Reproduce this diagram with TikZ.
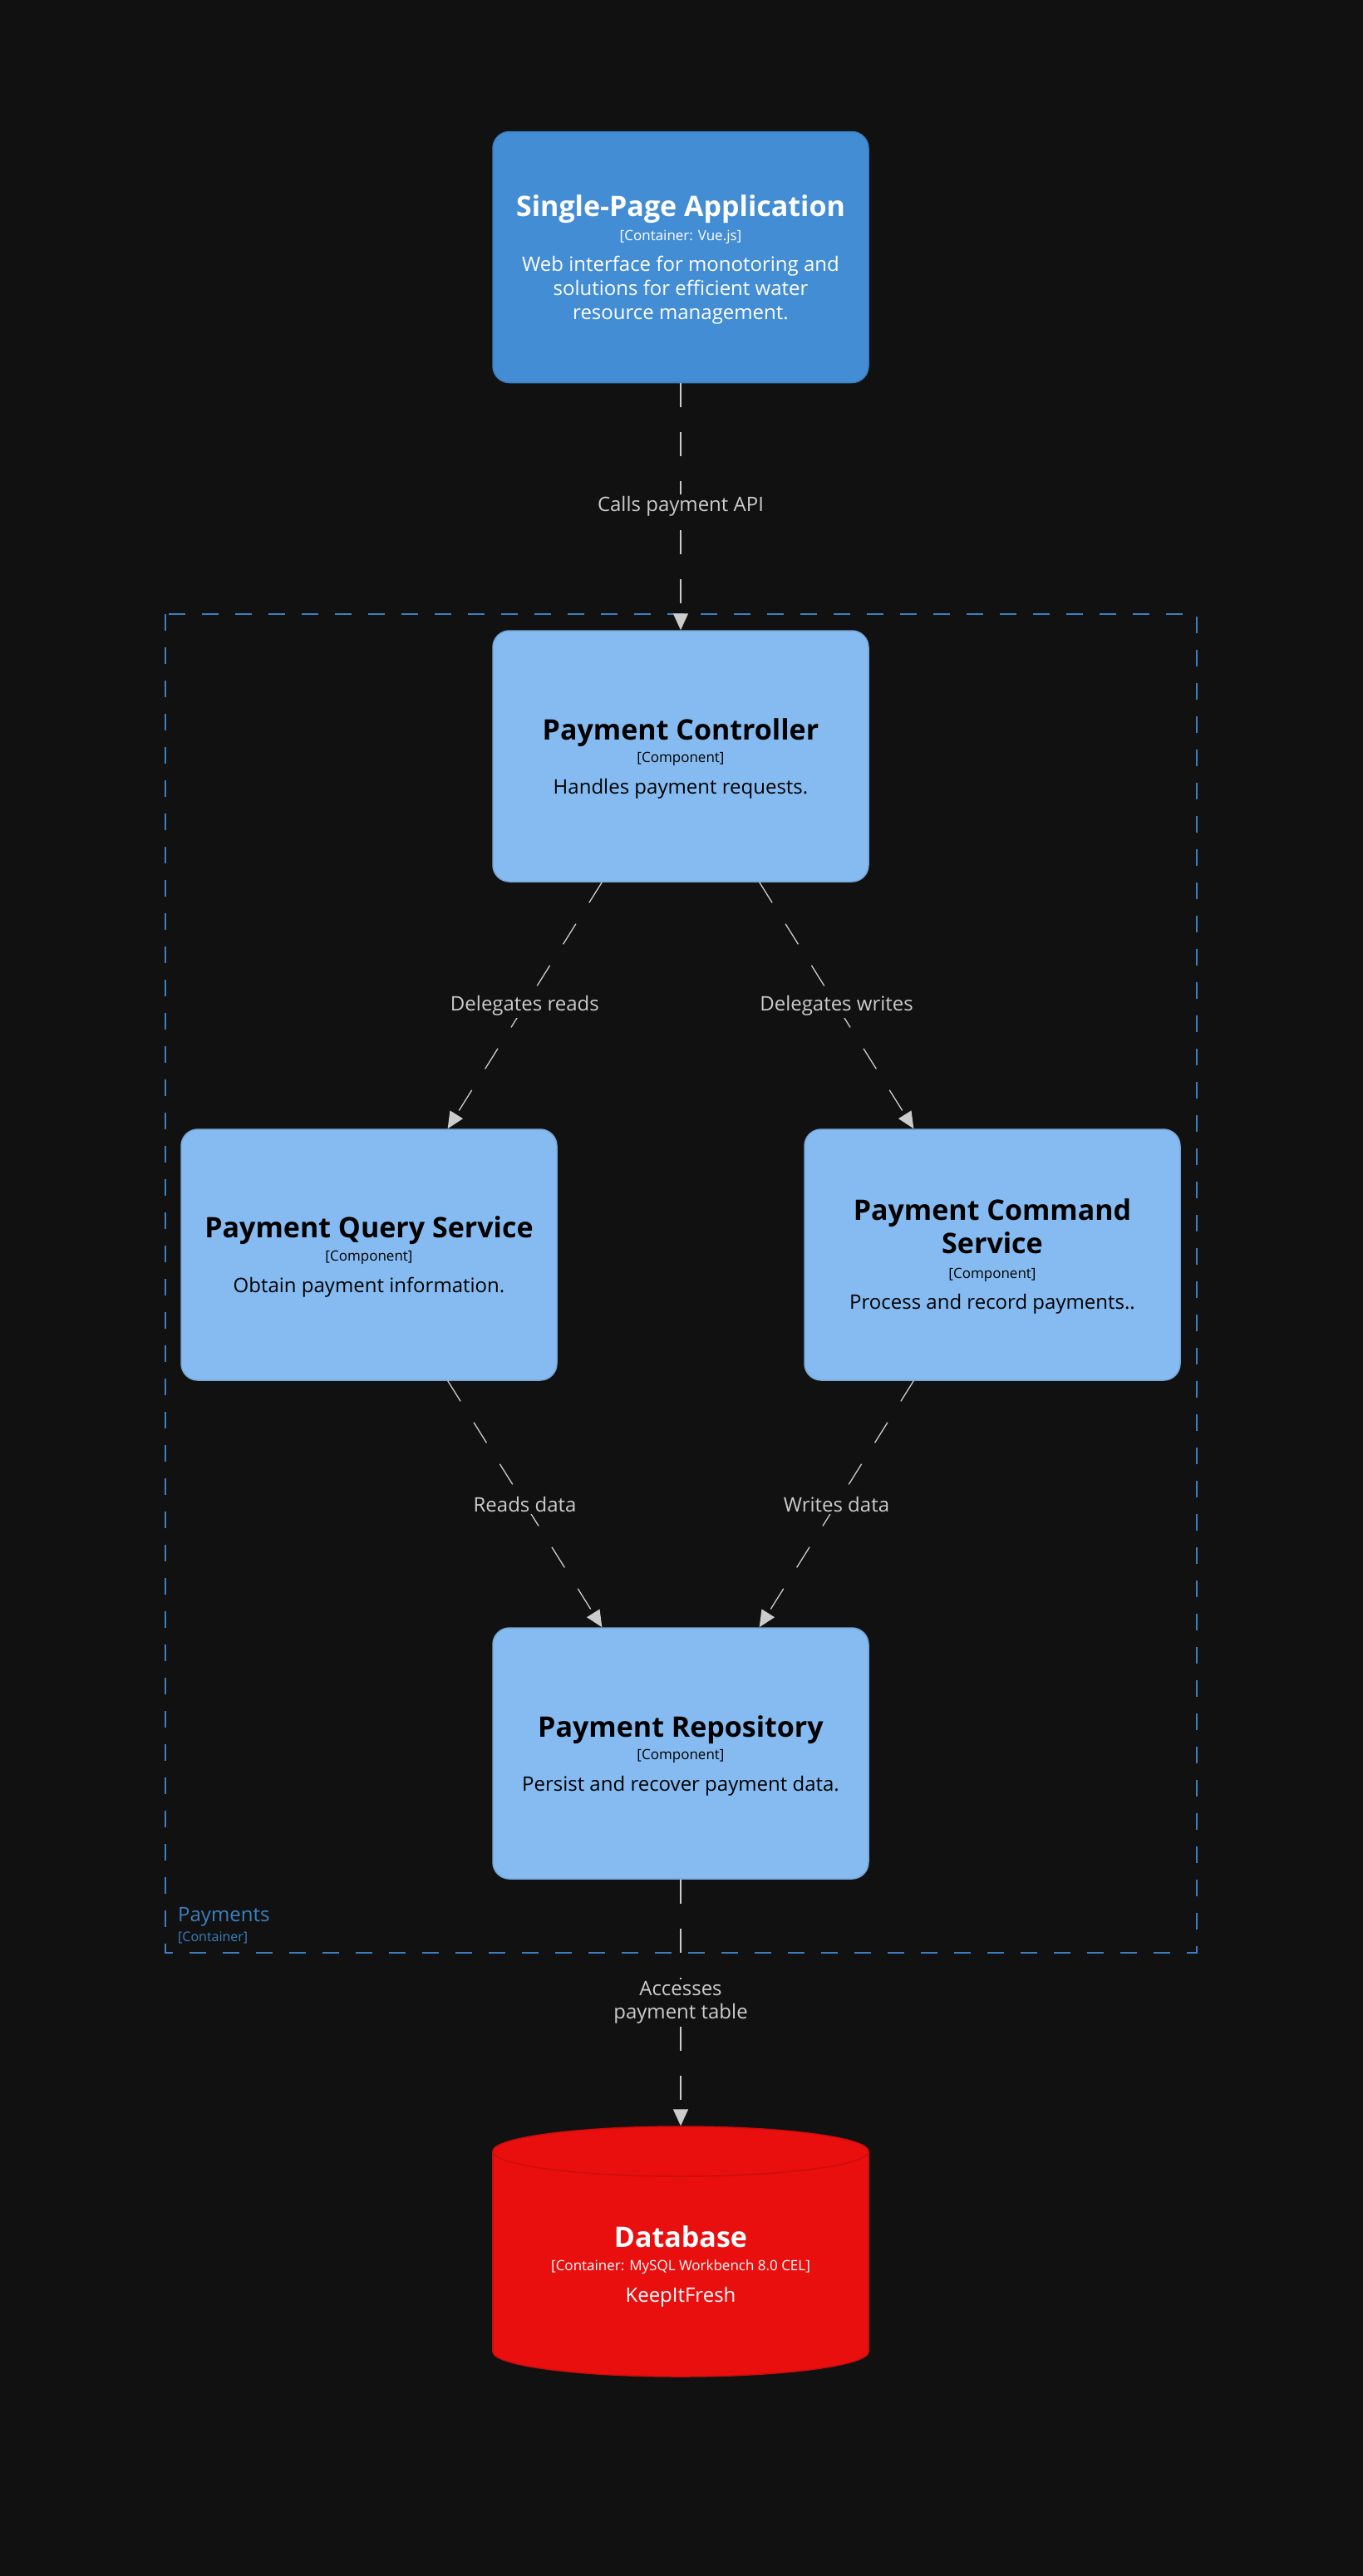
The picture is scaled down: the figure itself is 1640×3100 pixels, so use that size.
\documentclass[tikz,border=0pt]{standalone}
\usepackage{fontspec}
\setmainfont{Open Sans}
\usetikzlibrary{arrows.meta}
\definecolor{bg}{HTML}{111111}
\definecolor{spafill}{HTML}{438DD5}
\definecolor{spaline}{HTML}{3C7FC0}
\definecolor{compfill}{HTML}{85BBF0}
\definecolor{compline}{HTML}{78A8D8}
\definecolor{dbfill}{HTML}{EA0F0F}
\definecolor{dbline}{HTML}{CC0D0D}
\definecolor{relc}{HTML}{CCCCCC}
\definecolor{bnd}{HTML}{3C7FC0}
\tikzset{
  box/.style={rectangle, rounded corners=20pt, minimum width=452pt, minimum height=302pt, inner sep=0pt, line width=1.5pt},
  spabox/.style={box, fill=spafill, draw=spaline},
  compbox/.style={box, fill=compfill, draw=compline},
  nm/.style={anchor=base, inner sep=0pt, font=\fontsize{34}{40}\selectfont\bfseries},
  meta/.style={anchor=base, inner sep=0pt, font=\fontsize{17}{20}\selectfont},
  desc/.style={anchor=base, inner sep=0pt, font=\fontsize{24}{29}\selectfont},
  rel/.style={draw=relc, line width=1.3pt, dash pattern=on 29pt off 30pt, -{Triangle[length=20pt,width=18pt]}},
  rlabel/.style={fill=bg, text=relc, inner sep=3pt, align=center, font=\fontsize{24}{28}\selectfont},
  bndlabel/.style={anchor=base west, inner sep=0pt, text=bnd}
}
\begin{document}
\begin{tikzpicture}[x=1pt,y=-1pt]
\useasboundingbox (0,0) rectangle (1640,3100);
\fill[bg] (0,0) rectangle (1640,3100);

% boundary
\draw[bnd, line width=2pt, dash pattern=on 20pt off 20pt] (199,739) rectangle (1440,2350);
\node[bndlabel, font=\fontsize{24}{28}\selectfont] (bndname) at (214,2312) {Payments};
\node[bndlabel, font=\fontsize{16}{19}\selectfont] (bndmeta) at (214,2336) {[Container]};

% SPA
\node[spabox] (spa) at (819,309.5) {};
\node[nm, text=white] (spaN) at (819,260.7) {Single-Page Application};
\node[meta, text=white] (spaM) at (819,289) {[Container: Vue.js]};
\node[desc, text=white] (spaD1) at (819,326.7) {Web interface for monotoring and};
\node[desc, text=white] (spaD2) at (819,355.7) {solutions for efficient water};
\node[desc, text=white] (spaD3) at (819,384.3) {resource management.};

% Controller
\node[compbox] (ctrl) at (819,910) {};
\node[nm] (ctrlN) at (819,890) {Payment Controller};
\node[meta] (ctrlM) at (819,917) {[Component]};
\node[desc] (ctrlD) at (819,955) {Handles payment requests.};

% Query
\node[compbox] (qry) at (444,1510) {};
\node[nm] (qryN) at (444,1489) {Payment Query Service};
\node[meta] (qryM) at (444,1517) {[Component]};
\node[desc] (qryD) at (444,1555) {Obtain payment information.};

% Command
\node[compbox] (cmd) at (1194,1510) {};
\node[nm] (cmdN1) at (1194,1468) {Payment Command};
\node[nm] (cmdN2) at (1194,1508) {Service};
\node[meta] (cmdM) at (1194,1538) {[Component]};
\node[desc] (cmdD) at (1194,1575) {Process and record payments..};

% Repository
\node[compbox] (repo) at (819,2110) {};
\node[nm] (repoN) at (819,2090) {Payment Repository};
\node[meta] (repoM) at (819,2117) {[Component]};
\node[desc] (repoD) at (819,2155) {Persist and recover payment data.};

% Database cylinder
\fill[dbfill] (819,2830) ellipse [x radius=226, y radius=30];
\fill[dbfill] (593,2589) rectangle (1045,2830);
\begin{scope}
  \clip (585,2830) rectangle (1055,2870);
  \draw[dbline, line width=1.5pt] (819,2830) ellipse [x radius=226, y radius=30];
\end{scope}
\draw[dbline, line width=1.5pt] (593,2589) -- (593,2830) (1045,2589) -- (1045,2830);
\draw[dbline, line width=1.5pt, fill=dbfill] (819,2589) ellipse [x radius=226, y radius=30];
\node[minimum width=452pt, minimum height=302pt, inner sep=0pt] (db) at (819,2709.5) {};
\node[nm, text=white] (dbN) at (819,2704) {Database};
\node[meta, text=white] (dbM) at (819,2732) {[Container: MySQL Workbench 8.0 CEL]};
\node[desc, text=white] (dbD) at (819,2770) {KeepItFresh};

% relations
\draw[rel] (spa) -- node[rlabel] (l1) {Calls payment API} (ctrl);
\draw[rel] (ctrl) -- node[rlabel] (l2) {Delegates reads} (qry);
\draw[rel] (ctrl) -- node[rlabel] (l3) {Delegates writes} (cmd);
\draw[rel] (qry) -- node[rlabel] (l4) {Reads data} (repo);
\draw[rel] (cmd) -- node[rlabel] (l5) {Writes data} (repo);
\draw[rel] (repo) -- node[rlabel] (l6) {Accesses\\payment table} (db);
\end{tikzpicture}
\end{document}
